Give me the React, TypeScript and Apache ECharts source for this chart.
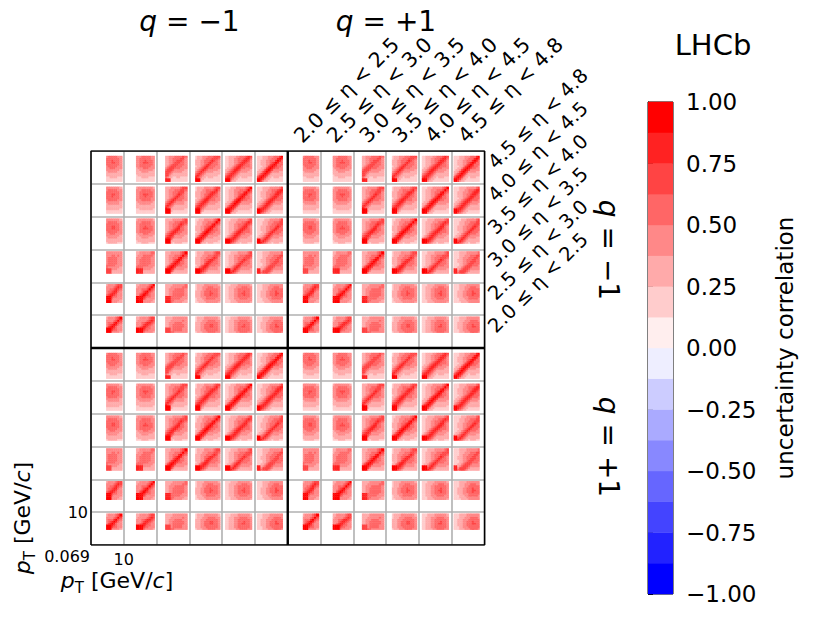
import React, { useEffect, useRef } from "react";
import * as echarts from "echarts";

const FONT = "DejaVu Sans";

// eta bins (index 0..5)
const etaLabels = [
  "2.0 ≤ η < 2.5",
  "2.5 ≤ η < 3.0",
  "3.0 ≤ η < 3.5",
  "3.5 ≤ η < 4.0",
  "4.0 ≤ η < 4.5",
  "4.5 ≤ η < 4.8",
];
const chargeLabels = ["q = −1", "q = +1"];

// pT bin edges per eta bin [GeV/c]
const ptEdges: number[][] = [
  [0.7, 0.9, 1.2, 1.6, 2.1, 2.8, 3.8, 5.2, 8.0],
  [0.45, 0.58, 0.75, 1.0, 1.3, 1.7, 2.2, 3.0, 4.2, 5.7, 7.5],
  [0.26, 0.34, 0.45, 0.6, 0.8, 1.05, 1.4, 1.85, 2.5, 3.4, 4.8, 7.5],
  [0.17, 0.22, 0.29, 0.38, 0.5, 0.66, 0.87, 1.15, 1.5, 2.0, 2.7, 3.7, 5.2, 7.5],
  [0.11, 0.145, 0.19, 0.25, 0.33, 0.43, 0.57, 0.75, 1.0, 1.3, 1.75, 2.4, 3.3, 4.6, 6.4],
  [0.095, 0.125, 0.165, 0.22, 0.29, 0.38, 0.5, 0.66, 0.87, 1.15, 1.5, 2.0, 2.8, 3.7, 4.7],
];

// low-pT region (per eta) where bins are almost fully correlated
const cornerCut = [1.5, 1.1, 0.5, 0.3, 0.2, 0.16];

// peak of the broad correlation blob between two eta bins
const blobPeak: number[][] = [
  [0.58, 0.58, 0.58, 0.64, 0.64, 0.64],
  [0.58, 0.58, 0.58, 0.64, 0.64, 0.64],
  [0.58, 0.58, 0.62, 0.62, 0.62, 0.62],
  [0.64, 0.64, 0.62, 0.62, 0.62, 0.62],
  [0.64, 0.64, 0.62, 0.62, 0.62, 0.62],
  [0.64, 0.64, 0.62, 0.62, 0.62, 0.62],
];

// strength of the same-pT band between two eta bins
const bandPeak: number[][] = [
  [0.86, 0.83, 0.55, 0, 0, 0],
  [0.83, 0.86, 0.62, 0, 0, 0],
  [0.55, 0.62, 0.86, 0.8, 0.77, 0.74],
  [0, 0, 0.8, 0.86, 0.82, 0.79],
  [0, 0, 0.77, 0.82, 0.86, 0.83],
  [0, 0, 0.74, 0.79, 0.83, 0.86],
];

const colorBounds = [
  -1, -0.875, -0.75, -0.625, -0.5, -0.375, -0.25, -0.125, 0,
  0.125, 0.25, 0.375, 0.5, 0.625, 0.75, 0.875, 1,
];
const colorSteps = [238, 204, 170, 136, 102, 68, 34, 0];

const PT_LO = 0.069;
const PT_HI = 10;
const originLabel = "0.069";
const blockLabel = "10";

function fracOf(pt: number) {
  return (Math.log10(pt) - Math.log10(PT_LO)) / (Math.log10(PT_HI) - Math.log10(PT_LO));
}

function colorFor(v: number) {
  let k = Math.floor((v + 1) / 0.125);
  if (k > 15) k = 15;
  if (k < 0) k = 0;
  if (k >= 8) {
    const g = colorSteps[k - 8];
    return `rgb(255,${g},${g})`;
  }
  const g = colorSteps[7 - k];
  return `rgb(${g},${g},255)`;
}

function bump(x: number) {
  return Math.exp(-Math.pow((x - 0.28) / 0.75, 2));
}

function corrValue(a: number, b: number, i: number, j: number) {
  if (a === b && i === j) return 1;
  const ea = ptEdges[a];
  const eb = ptEdges[b];
  const u = 0.5 * (Math.log10(ea[i]) + Math.log10(ea[i + 1]));
  const v = 0.5 * (Math.log10(eb[j]) + Math.log10(eb[j + 1]));
  const bg = 0.18 + (blobPeak[a][b] - 0.18) * bump(u) * bump(v);
  let band = 0;
  const bp = bandPeak[a][b];
  if (bp > 0) {
    const d = Math.abs(u - v);
    const m = 0.5 * (u + v);
    const att = 1 - 0.12 * Math.min(1, Math.max(0, (m - 0.2) / 0.7));
    band = 0.22 + (bp * att - 0.22) * Math.exp(-Math.pow(d / 0.38, 2));
    if (ea[i] < cornerCut[a] && eb[j] < cornerCut[b]) {
      band = Math.max(band, Math.min(0.99, bp + 0.13));
    }
  }
  return Math.max(bg, band);
}

function buildCells() {
  const cells: number[][] = [];
  for (let qr = 0; qr < 2; qr++) {
    const yOff = qr === 0 ? 6 : 0;
    for (let qc = 0; qc < 2; qc++) {
      const xOff = qc * 6;
      for (let a = 0; a < 6; a++) {
        const ea = ptEdges[a];
        for (let b = 0; b < 6; b++) {
          const eb = ptEdges[b];
          for (let i = 0; i < ea.length - 1; i++) {
            for (let j = 0; j < eb.length - 1; j++) {
              cells.push([
                xOff + b + fracOf(eb[j]),
                xOff + b + fracOf(eb[j + 1]),
                yOff + a + fracOf(ea[i]),
                yOff + a + fracOf(ea[i + 1]),
                corrValue(a, b, i, j),
              ]);
            }
          }
        }
      }
    }
  }
  return cells;
}

function ptTitle(size: number) {
  return {
    text: "{p|p}{s|T}{n| [GeV/}{p|c}{n|]}",
    rich: {
      p: { fontFamily: FONT, fontSize: size, fontStyle: "italic", lineHeight: size + 8, verticalAlign: "middle", fill: "#000" },
      n: { fontFamily: FONT, fontSize: size, lineHeight: size + 8, verticalAlign: "middle", fill: "#000" },
      s: { fontFamily: FONT, fontSize: Math.round(size * 0.7), lineHeight: Math.round(size * 0.7), verticalAlign: "bottom", fill: "#000" },
    },
  };
}

function qText(label: string, size: number) {
  return {
    text: "{i|q}{n|" + label.slice(1) + "}",
    rich: {
      i: { fontFamily: FONT, fontSize: size, fontStyle: "italic", fill: "#000" },
      n: { fontFamily: FONT, fontSize: size, fill: "#000" },
    },
  };
}

export default function App() {
  const ref = useRef<HTMLDivElement>(null);
  useEffect(() => {
    if (!ref.current) return;
    const chart = echarts.init(ref.current, undefined, { renderer: "svg" });
    const cells = buildCells();
    const cbData = [];
    for (let k = 0; k < 16; k++) {
      cbData.push([colorBounds[k], colorBounds[k + 1], 0.5 * (colorBounds[k] + colorBounds[k + 1])]);
    }
    const blockW = 393.5 / 12;
    const graphics: any[] = [];
    const center = { textAlign: "center", textVerticalAlign: "middle", align: "center", verticalAlign: "middle" };
    graphics.push({ type: "text", x: 189.5, y: 21, style: { ...qText(chargeLabels[0], 28), ...center } });
    graphics.push({ type: "text", x: 386, y: 21, style: { ...qText(chargeLabels[1], 28), ...center } });
    graphics.push({ type: "text", x: 608, y: 250, rotation: -Math.PI / 2, style: { ...qText(chargeLabels[0], 28), ...center } });
    graphics.push({ type: "text", x: 608, y: 447, rotation: -Math.PI / 2, style: { ...qText(chargeLabels[1], 28), ...center } });
    for (let b = 0; b < 6; b++) {
      graphics.push({
        type: "text", x: 297.5 + blockW * b, y: 139, rotation: Math.PI / 4,
        style: { text: etaLabels[b], fontFamily: FONT, fontSize: 20.5, fill: "#000", textAlign: "left", textVerticalAlign: "middle", align: "left", verticalAlign: "middle" },
      });
    }
    for (let r = 0; r < 6; r++) {
      const a = 5 - r;
      const yc = 151 + blockW * (r + 0.5);
      graphics.push({
        type: "text", x: 491.5, y: yc - 2, rotation: Math.PI / 4,
        style: { text: etaLabels[a], fontFamily: FONT, fontSize: 19.5, fill: "#000", textAlign: "left", textVerticalAlign: "middle", align: "left", verticalAlign: "middle" },
      });
    }
    graphics.push({
      type: "text", x: 90, y: 556,
      style: { text: originLabel, fontFamily: FONT, fontSize: 16, fill: "#000", textAlign: "right", textVerticalAlign: "middle", align: "right", verticalAlign: "middle" },
    });
    graphics.push({ type: "text", x: 117, y: 580, style: { ...ptTitle(22), ...center } });
    graphics.push({ type: "text", x: 22, y: 518, rotation: Math.PI / 2, style: { ...ptTitle(22), ...center } });
    graphics.push({ type: "text", x: 713, y: 45, style: { text: "LHCb", fontFamily: FONT, fontSize: 29, fill: "#000", ...center } });
    graphics.push({
      type: "text", x: 785, y: 348, rotation: Math.PI / 2,
      style: { text: "uncertainty correlation", fontFamily: FONT, fontSize: 23, fill: "#000", ...center },
    });

    const option: any = {
      animation: false,
      backgroundColor: "#fff",
      textStyle: { fontFamily: FONT },
      grid: [
        { left: 91, top: 151, width: 393.5, height: 394, show: false, containLabel: false },
        { left: 648, top: 102, width: 25, height: 492, show: true, borderColor: "#000", borderWidth: 1, backgroundColor: "transparent", containLabel: false },
      ],
      xAxis: [
        {
          gridIndex: 0, type: "value", min: 0, max: 12, interval: 1,
          axisLine: { show: false }, axisTick: { show: false },
          axisLabel: { show: true, margin: 6, fontSize: 16, color: "#000", fontFamily: FONT, formatter: (v: number) => (v === 1 ? blockLabel : "") },
          splitLine: { show: true, lineStyle: { color: "#b0b0b0", width: 1.6 } },
        },
        { gridIndex: 1, type: "value", min: 0, max: 1, show: false },
      ],
      yAxis: [
        {
          gridIndex: 0, type: "value", min: 0, max: 12, interval: 1,
          axisLine: { show: false }, axisTick: { show: false },
          axisLabel: { show: true, margin: 3, fontSize: 16, color: "#000", fontFamily: FONT, formatter: (v: number) => (v === 1 ? blockLabel : "") },
          splitLine: { show: true, lineStyle: { color: "#b0b0b0", width: 1.6 } },
        },
        {
          gridIndex: 1, type: "value", min: -1, max: 1, interval: 0.25, position: "right",
          axisLine: { show: true, lineStyle: { color: "#000", width: 1 } },
          axisTick: { show: true, length: 5, lineStyle: { color: "#000", width: 1 } },
          axisLabel: {
            show: true, margin: 13, fontSize: 23, color: "#000", fontFamily: FONT,
            formatter: (v: number) => (v < 0 ? "−" : "") + Math.abs(v).toFixed(2),
          },
          splitLine: { show: false },
        },
      ],
      series: [
        {
          type: "custom",
          xAxisIndex: 0, yAxisIndex: 0,
          data: cells,
          encode: { x: [0, 1], y: [2, 3] },
          silent: true,
          progressive: 0,
          progressiveThreshold: 100000000,
          z: 2,
          renderItem: (params: any, api: any) => {
            const p0 = api.coord([api.value(0), api.value(2)]);
            const p1 = api.coord([api.value(1), api.value(3)]);
            return {
              type: "rect",
              shape: { x: p0[0] - 0.2, y: p1[1] - 0.2, width: p1[0] - p0[0] + 0.4, height: p0[1] - p1[1] + 0.4 },
              style: { fill: colorFor(api.value(4)) },
            };
          },
        },
        {
          type: "line", xAxisIndex: 0, yAxisIndex: 0, data: [[6, 0], [6, 12]],
          symbol: "none", silent: true, z: 5, lineStyle: { color: "#000", width: 2.4 },
        },
        {
          type: "line", xAxisIndex: 0, yAxisIndex: 0, data: [[0, 6], [12, 6]],
          symbol: "none", silent: true, z: 5, lineStyle: { color: "#000", width: 2.4 },
        },
        {
          type: "line", xAxisIndex: 0, yAxisIndex: 0, data: [[0, 0], [12, 0], [12, 12], [0, 12], [0, 0]],
          symbol: "none", silent: true, z: 6, lineStyle: { color: "#000", width: 1.5 },
        },
        {
          type: "custom",
          xAxisIndex: 1, yAxisIndex: 1,
          data: cbData,
          encode: { y: [0, 1] },
          silent: true,
          renderItem: (params: any, api: any) => {
            const p0 = api.coord([0, api.value(0)]);
            const p1 = api.coord([1, api.value(1)]);
            return {
              type: "rect",
              shape: { x: p0[0], y: p1[1] - 0.2, width: p1[0] - p0[0], height: p0[1] - p1[1] + 0.4 },
              style: { fill: colorFor(api.value(2)) },
            };
          },
        },
      ],
      graphic: graphics,
    };
    chart.setOption(option);
    return () => chart.dispose();
  }, []);
  return <div ref={ref} style={{ position: "absolute", left: 0, top: 0, width: 830, height: 623 }} />;
}
